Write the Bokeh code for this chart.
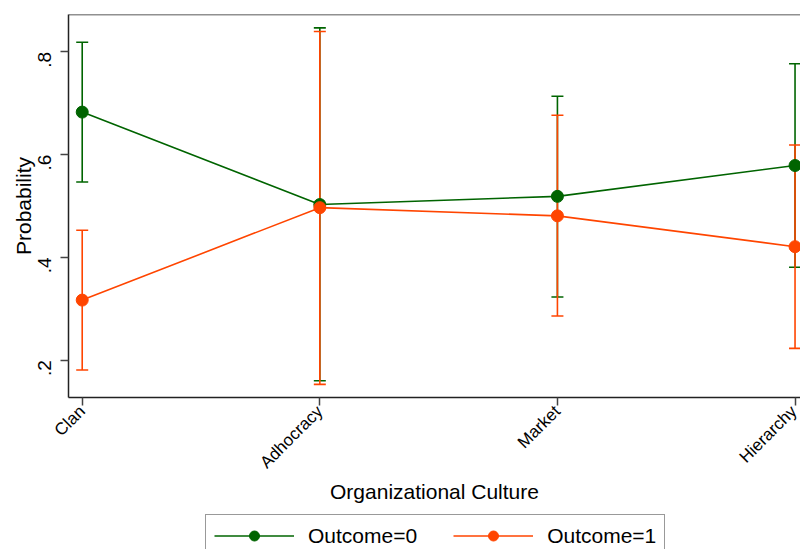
import math
from bokeh.plotting import figure
from bokeh.layouts import column
from bokeh.models import (ColumnDataSource, Range1d, FixedTicker, Legend, LegendItem, Span)
from bokeh.embed import file_html
from bokeh.resources import INLINE

# Predicted probabilities by organizational culture, with 95% CIs
categories = ["Clan", "Adhocracy", "Market", "Hierarchy"]

outcome0 = [0.683, 0.503, 0.519, 0.579]
outcome0_lo = [0.547, 0.160, 0.323, 0.381]
outcome0_hi = [0.819, 0.847, 0.714, 0.777]

outcome1 = [0.317, 0.497, 0.481, 0.421]
outcome1_lo = [0.181, 0.153, 0.286, 0.223]
outcome1_hi = [0.453, 0.840, 0.677, 0.619]

y_ticks = [0.2, 0.4, 0.6, 0.8]
y_tick_labels = [".2", ".4", ".6", ".8"]

series_labels = ["Outcome=0", "Outcome=1"]

GREEN = "#006400"
ORANGE = "#ff4500"
FONT = "Liberation Sans"

xs = list(range(len(categories)))

p = figure(width=800, height=510, output_backend="svg", toolbar_location=None,
           x_range=Range1d(-0.0577, 3.023), y_range=Range1d(0.1274, 0.873),
           min_border_left=68, min_border_right=0, min_border_top=14,
           min_border_bottom=113)
p.outline_line_color = None
p.xgrid.visible = False
p.ygrid.visible = False

# top frame edge
p.add_layout(Span(location=0.873, dimension="width", line_color="#222222",
                  line_width=1.5))

src0 = ColumnDataSource(dict(x=xs, y=outcome0, lo=outcome0_lo, hi=outcome0_hi))
src1 = ColumnDataSource(dict(x=xs, y=outcome1, lo=outcome1_lo, hi=outcome1_hi))

# confidence intervals
for src, col in ((src0, GREEN), (src1, ORANGE)):
    p.segment(x0="x", y0="lo", x1="x", y1="hi", source=src, line_color=col,
              line_width=1.6)
    p.scatter(x="x", y="lo", source=src, marker="dash", size=12,
              line_color=col, line_width=1.6)
    p.scatter(x="x", y="hi", source=src, marker="dash", size=12,
              line_color=col, line_width=1.6)

# point estimates
p.line(x="x", y="y", source=src0, line_color=GREEN, line_width=1.6)
p.scatter(x="x", y="y", source=src0, size=12, fill_color=GREEN, line_color=GREEN)
p.line(x="x", y="y", source=src1, line_color=ORANGE, line_width=1.6)
p.scatter(x="x", y="y", source=src1, size=12, fill_color=ORANGE, line_color=ORANGE)

# axes
xa = p.xaxis[0]
xa.ticker = FixedTicker(ticks=xs)
xa.major_label_overrides = {i: c for i, c in enumerate(categories)}
xa.major_label_orientation = math.pi / 4
xa.axis_label = "Organizational Culture"

ya = p.yaxis[0]
ya.ticker = FixedTicker(ticks=y_ticks)
ya.major_label_overrides = {t: l for t, l in zip(y_ticks, y_tick_labels)}
ya.major_label_orientation = math.pi / 2
ya.axis_label = "Probability"

for ax in (xa, ya):
    ax.axis_line_color = "#222222"
    ax.axis_line_width = 1.5
    ax.major_tick_line_color = "#444444"
    ax.major_tick_line_width = 1.5
    ax.major_tick_out = 8
    ax.major_tick_in = 0
    ax.minor_tick_line_color = None
    ax.major_label_text_font = FONT
    ax.major_label_text_color = "black"
    ax.axis_label_text_font = FONT
    ax.axis_label_text_font_style = "normal"
    ax.axis_label_text_font_size = "21px"
    ax.axis_label_text_color = "black"

xa.major_label_text_font_size = "17px"
xa.major_label_standoff = 3
xa.axis_label_standoff = -2
ya.major_label_text_font_size = "19px"
ya.major_label_standoff = 16
ya.axis_label_standoff = -6

# legend strip below the plot; its box runs past the bottom edge
leg = figure(width=800, height=39, output_backend="svg", toolbar_location=None,
             x_range=Range1d(0, 1), y_range=Range1d(0, 1),
             x_axis_location=None, y_axis_location=None,
             min_border_left=0, min_border_right=0, min_border_top=0,
             min_border_bottom=0)
leg.outline_line_color = None
leg.xgrid.visible = False
leg.ygrid.visible = False

items = []
for lab, col in zip(series_labels, (GREEN, ORANGE)):
    r_line = leg.line(x=[-5, -4], y=[-5, -4], line_color=col, line_width=1.6)
    r_mark = leg.scatter(x=[-5], y=[-5], size=12, fill_color=col, line_color=col)
    items.append(LegendItem(label=lab, renderers=[r_line, r_mark]))

legend = Legend(items=items, orientation="horizontal", location=(137, -8),
                glyph_width=80, glyph_height=25, label_standoff=14,
                spacing=36, padding=8, margin=0,
                label_text_font=FONT, label_text_font_size="21px",
                label_text_color="black",
                border_line_color="#333333", border_line_width=1.5,
                background_fill_alpha=1.0)
leg.add_layout(legend, "center")

layout = column(p, leg, spacing=0)
open("out.html", "w").write(file_html(layout, INLINE))
